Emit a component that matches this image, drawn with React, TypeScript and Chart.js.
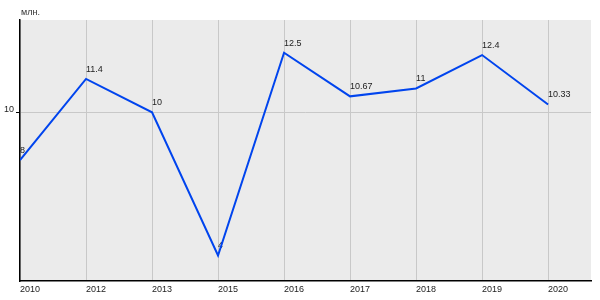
import React, { useEffect, useRef } from "react";
import { Chart, registerables } from "chart.js";

Chart.register(...registerables);

const categories = ["2010", "2012", "2013", "2015", "2016", "2017", "2018", "2019", "2020"];
const values = [8, 11.4, 10, 4, 12.5, 10.67, 11, 12.4, 10.33];
const valueLabels = ["8", "11.4", "10", "4", "12.5", "10.67", "11", "12.4", "10.33"];
const yTicks = [10];
const unitLabel = "млн.";

const FONT = "'Liberation Sans', Arial, sans-serif";

export default function App() {
  const ref = useRef<HTMLCanvasElement | null>(null);

  useEffect(() => {
    document.body.style.margin = "0";
    const canvas = ref.current;
    if (!canvas) return;

    const bgPlugin = {
      id: "bg",
      beforeDraw(chart: any) {
        const { ctx, chartArea } = chart;
        ctx.save();
        ctx.fillStyle = "#ebebeb";
        ctx.fillRect(chartArea.left, chartArea.top, chartArea.right - chartArea.left, chartArea.bottom - chartArea.top);
        ctx.restore();
      },
      afterDraw(chart: any) {
        const { ctx, chartArea } = chart;
        ctx.save();
        ctx.font = `9px ${FONT}`;
        ctx.fillStyle = "#333";
        ctx.textAlign = "left";
        ctx.textBaseline = "alphabetic";
        ctx.fillText(unitLabel, chartArea.left + 1, 15);
        ctx.restore();
      },
    };

    const labelPlugin = {
      id: "pointLabels",
      beforeDatasetsDraw(chart: any) {
        const { ctx } = chart;
        const meta = chart.getDatasetMeta(0);
        ctx.save();
        ctx.font = `9px ${FONT}`;
        ctx.fillStyle = "#222";
        ctx.textAlign = "left";
        ctx.textBaseline = "alphabetic";
        meta.data.forEach((pt: any, i: number) => {
          ctx.fillText(valueLabels[i], pt.x, pt.y - 7);
        });
        ctx.restore();
      },
    };

    const chart = new Chart(canvas, {
      type: "line",
      data: {
        datasets: [
          {
            data: values.map((v, i) => ({ x: i, y: v })),
            borderColor: "#0044ee",
            borderWidth: 2,
            pointRadius: 0,
            tension: 0,
            fill: false,
          },
        ],
      },
      options: {
        animation: false,
        responsive: false,
        maintainAspectRatio: false,
        layout: { padding: { top: 20, right: 9, left: 0, bottom: 0 } },
        plugins: { legend: { display: false }, tooltip: { enabled: false } },
        scales: {
          x: {
            type: "linear",
            min: 0,
            max: 8.65,
            afterBuildTicks(scale: any) {
              scale.ticks = categories.map((_, i) => ({ value: i }));
            },
            afterFit(scale: any) {
              scale.height = 19;
            },
            grid: { color: "#c8c8c8", drawTicks: false, lineWidth: 1 },
            border: { color: "#000", width: 1.5 },
            ticks: {
              align: "start",
              padding: 3,
              maxRotation: 0,
              autoSkip: false,
              color: "#222",
              font: { family: FONT, size: 9 },
              callback: (v: any) => categories[v] ?? "",
            },
          },
          y: {
            type: "linear",
            min: 2.93,
            max: 13.87,
            afterBuildTicks(scale: any) {
              scale.ticks = yTicks.map((v) => ({ value: v }));
            },
            afterFit(scale: any) {
              scale.width = 20;
            },
            grid: { color: "#c8c8c8", drawTicks: true, tickLength: 4, tickColor: "#000" },
            border: { color: "#000", width: 1.5 },
            ticks: {
              padding: 2,
              labelOffset: -3,
              color: "#222",
              font: { family: FONT, size: 9 },
              callback: (v: any) => String(v),
            },
          },
        },
      },
      plugins: [bgPlugin, labelPlugin],
    } as any);

    return () => chart.destroy();
  }, []);

  return (
    <div style={{ width: 600, height: 300 }}>
      <canvas ref={ref} width={600} height={300} style={{ display: "block", width: 600, height: 300 }} />
    </div>
  );
}
